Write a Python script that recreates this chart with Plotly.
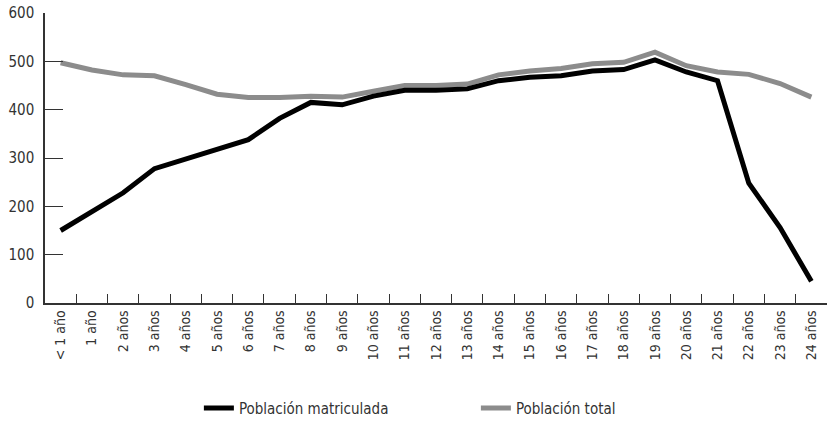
import plotly.graph_objects as go

categories = ["< 1 año", "1 año", "2 años", "3 años", "4 años", "5 años", "6 años", "7 años",
              "8 años", "9 años", "10 años", "11 años", "12 años", "13 años", "14 años",
              "15 años", "16 años", "17 años", "18 años", "19 años", "20 años", "21 años",
              "22 años", "23 años", "24 años"]
matriculada = [150, 190, 228, 278, 298, 316, 338, 382, 415, 410, 428, 440, 440, 443, 460,
               467, 470, 480, 483, 503, 478, 460, 248, 156, 45]
total = [497, 482, 472, 470, 452, 432, 425, 425, 428, 426, 438, 450, 450, 453, 472,
         480, 485, 495, 498, 519, 491, 478, 473, 454, 426]
y_ticks = [0, 100, 200, 300, 400, 500, 600]

FONT = "Liberation Sans Narrow, DejaVu Sans Condensed, sans-serif"

fig = go.Figure()
fig.add_trace(go.Scatter(x=categories, y=total, name="Población total", mode="lines",
                         line=dict(color="#8c8c8c", width=5), showlegend=True))
fig.add_trace(go.Scatter(x=categories, y=matriculada, name="Población matriculada", mode="lines",
                         line=dict(color="#000000", width=5)))

fig.update_layout(
    width=827, height=425,
    margin=dict(l=45, r=0, t=13, b=119),
    paper_bgcolor="white", plot_bgcolor="white",
    font=dict(family=FONT, size=14, color="#333333"),
    showlegend=True,
    legend=dict(orientation="h", x=0.551, xanchor="center", y=-0.363, yanchor="middle",
                traceorder="reversed", entrywidth=232, entrywidthmode="pixels",
                font=dict(size=15, color="#333333")),
    xaxis=dict(type="category", range=[-0.5, 24.5], showline=True, linecolor="#333333",
               linewidth=1.5, ticks="inside", tickson="boundaries", ticklen=9,
               tickcolor="#333333", tickangle=-90, showgrid=False, zeroline=False,
               tickfont=dict(size=14), automargin=False),
    yaxis=dict(range=[0, 600], tickvals=y_ticks, showline=True, linecolor="#333333",
               linewidth=1.5, ticks="inside", ticklen=18, tickcolor="#333333",
               showgrid=False, zeroline=False, tickfont=dict(size=15), ticklabelstandoff=6,
               automargin=False),
)

fig.write_html("out.html", config={"displayModeBar": False},
               post_script="document.body.style.margin='0';document.body.style.overflow='hidden';")
